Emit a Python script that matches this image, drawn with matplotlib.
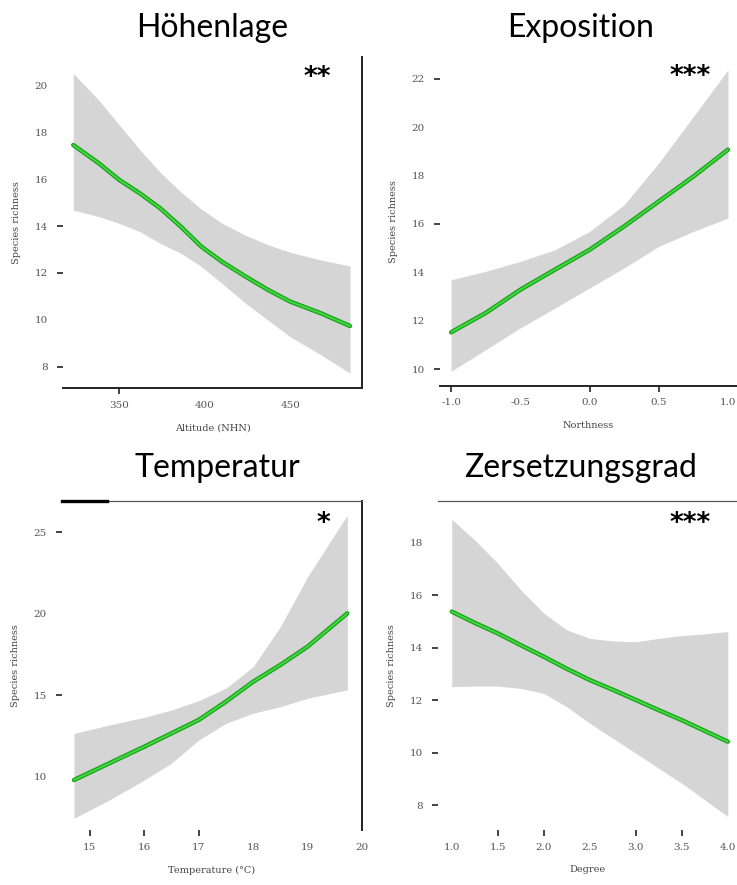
import matplotlib
matplotlib.use("Agg")
import matplotlib.pyplot as plt
import numpy as np

# ---------------- data ----------------
titles = ["Höhenlage", "Exposition", "Temperatur", "Zersetzungsgrad"]
signif = ["**", "***", "*", "***"]
xlabels = ["Altitude (NHN)", "Northness", "Temperature (°C)", "Degree"]
ylabel = "Species richness"

# Höhenlage
alt_x = [323, 338, 350, 362, 374, 386, 398, 410, 424, 437, 450, 468, 485]
alt_fit = [17.45, 16.67, 15.96, 15.39, 14.75, 13.97, 13.12, 12.48, 11.84, 11.28, 10.78, 10.28, 9.74]
alt_hi = [20.50, 19.36, 18.30, 17.25, 16.28, 15.45, 14.72, 14.12, 13.60, 13.20, 12.88, 12.55, 12.30]
alt_lo = [14.68, 14.40, 14.11, 13.76, 13.26, 12.84, 12.27, 11.56, 10.70, 9.99, 9.28, 8.51, 7.73]
alt_xticks = [350, 400, 450]
alt_yticks = [8, 10, 12, 14, 16, 18, 20]

# Exposition
exp_x = [-1.0, -0.75, -0.5, -0.25, 0.0, 0.25, 0.5, 0.75, 1.0]
exp_fit = [11.52, 12.32, 13.28, 14.11, 14.93, 15.90, 16.93, 17.96, 19.07]
exp_hi = [13.69, 14.04, 14.45, 14.93, 15.69, 16.79, 18.52, 20.44, 22.37]
exp_lo = [9.91, 10.80, 11.70, 12.52, 13.35, 14.18, 15.07, 15.69, 16.24]
exp_xticks = [-1.0, -0.5, 0.0, 0.5, 1.0]
exp_yticks = [10, 12, 14, 16, 18, 20, 22]

# Temperatur
tmp_x = [14.71, 15.36, 16.0, 16.5, 17.0, 17.5, 18.0, 18.5, 19.0, 19.73]
tmp_fit = [9.81, 10.84, 11.85, 12.67, 13.49, 14.61, 15.83, 16.86, 17.98, 20.02]
tmp_hi = [12.67, 13.18, 13.65, 14.10, 14.67, 15.43, 16.75, 19.20, 22.26, 26.04]
tmp_lo = [7.47, 8.59, 9.81, 10.84, 12.26, 13.28, 13.90, 14.30, 14.82, 15.33]
tmp_xticks = [15, 16, 17, 18, 19, 20]
tmp_yticks = [10, 15, 20, 25]

# Zersetzungsgrad
deg_x = [1.0, 1.25, 1.5, 1.75, 2.0, 2.25, 2.5, 2.75, 3.0, 3.25, 3.5, 3.75, 4.0]
deg_fit = [15.38, 14.95, 14.55, 14.10, 13.66, 13.20, 12.77, 12.40, 12.01, 11.62, 11.24, 10.83, 10.42]
deg_hi = [18.90, 18.11, 17.22, 16.21, 15.32, 14.68, 14.36, 14.26, 14.23, 14.36, 14.47, 14.53, 14.62]
deg_lo = [12.52, 12.54, 12.54, 12.45, 12.26, 11.75, 11.12, 10.55, 9.98, 9.40, 8.83, 8.20, 7.56]
deg_xticks = [1.0, 1.5, 2.0, 2.5, 3.0, 3.5, 4.0]
deg_yticks = [8, 10, 12, 14, 16, 18]

# ---------------- figure ----------------
W, H = 737, 885
fig = plt.figure(figsize=(W / 100, H / 100), dpi=100)


def rect(l, r, t, b):
    return [l / W, 1 - b / H, (r - l) / W, (b - t) / H]


panels = [
    dict(rect=rect(63, 362, 57, 388), x=alt_x, fit=alt_fit, hi=alt_hi, lo=alt_lo,
         xt=alt_xticks, yt=alt_yticks, xlim=(317, 492), ylim=(7.1, 21.2),
         fmt="{:.0f}", spines=["bottom", "right"],
         ytick_on=[8, 12, 14], xtick_on=[350]),
    dict(rect=rect(440, 737, 57, 386), x=exp_x, fit=exp_fit, hi=exp_hi, lo=exp_lo,
         xt=exp_xticks, yt=exp_yticks, xlim=(-1.08, 1.065), ylim=(9.3, 22.9),
         fmt="{:.1f}", spines=["bottom"],
         ytick_on=[10, 16, 22], xtick_on=[-1.0, 0.0, 0.5]),
    dict(rect=rect(62, 362, 501, 830), x=tmp_x, fit=tmp_fit, hi=tmp_hi, lo=tmp_lo,
         xt=tmp_xticks, yt=tmp_yticks, xlim=(14.49, 19.95), ylim=(6.75, 26.9),
         fmt="{:.0f}", spines=["top", "right"],
         ytick_on=[15, 25], xtick_on=[15, 16, 17]),
    dict(rect=rect(438, 737, 501, 830), x=deg_x, fit=deg_fit, hi=deg_hi, lo=deg_lo,
         xt=deg_xticks, yt=deg_yticks, xlim=(0.85, 4.1), ylim=(7.05, 19.6),
         fmt="{:.1f}", spines=["top"],
         ytick_on=[8, 10, 12, 14, 16], xtick_on=[1.5, 2.0, 3.0, 3.5]),
]

title_pos = [(212, 28), (581, 28), (217, 468), (581, 468)]
star_pos = [(317, 75), (690, 74), (323, 521), (690, 521)]

tick_font = dict(family="DejaVu Serif", size=7.5)
for i, p in enumerate(panels):
    ax = fig.add_axes(p["rect"])
    ax.fill_between(p["x"], p["lo"], p["hi"], color="#d5d5d5", lw=0, zorder=1)
    ax.plot(p["x"], p["fit"], color="#1e9e1e", lw=3.2, zorder=2, solid_capstyle="round")
    ax.plot(p["x"], p["fit"], color="#3ddc3d", lw=1.4, zorder=3, solid_capstyle="round")
    ax.set_xlim(*p["xlim"])
    ax.set_ylim(*p["ylim"])
    ax.set_xticks(p["xt"])
    ax.set_yticks(p["yt"])
    ax.set_xticklabels([p["fmt"].format(v) for v in p["xt"]], fontdict=tick_font, color="#555555")
    ax.set_yticklabels([str(v) for v in p["yt"]], fontdict=tick_font, color="#555555")
    ax.tick_params(axis="y", direction="out", length=4, width=1.2, color="#222222", pad=7)
    ax.tick_params(axis="x", direction="out", length=4, width=1.2, color="#222222", pad=5)
    for t, v in zip(ax.yaxis.get_major_ticks(), p["yt"]):
        t.tick1line.set_visible(v in p["ytick_on"])
    for t, v in zip(ax.xaxis.get_major_ticks(), p["xt"]):
        t.tick1line.set_visible(any(abs(v - w) < 1e-9 for w in p["xtick_on"]))
    for s in ["top", "bottom", "left", "right"]:
        ax.spines[s].set_visible(s in p["spines"])
        ax.spines[s].set_color("#222222")
        ax.spines[s].set_linewidth(1.4)
    if i >= 2:
        ax.spines["top"].set_linewidth(0.9)
        ax.spines["top"].set_color("#555555")
    if i == 2:
        ax.plot([0, 0.15], [1, 1], transform=ax.transAxes, color="black", lw=2.4,
                clip_on=False, zorder=5)
    ax.set_xlabel(xlabels[i], family="DejaVu Serif", size=7, color="#444444", labelpad=10)
    ax.set_ylabel(ylabel, family="DejaVu Serif", size=7, color="#444444", labelpad=10)
    fig.text(title_pos[i][0] / W, 1 - title_pos[i][1] / H, titles[i],
             family="Lato", size=23, ha="center", va="center", color="black")
    fig.text(star_pos[i][0] / W, 1 - star_pos[i][1] / H, signif[i],
             family="DejaVu Sans", size=19, weight="bold", ha="center",
             va="center_baseline", color="black")

fig.savefig("out.png", dpi=100)
